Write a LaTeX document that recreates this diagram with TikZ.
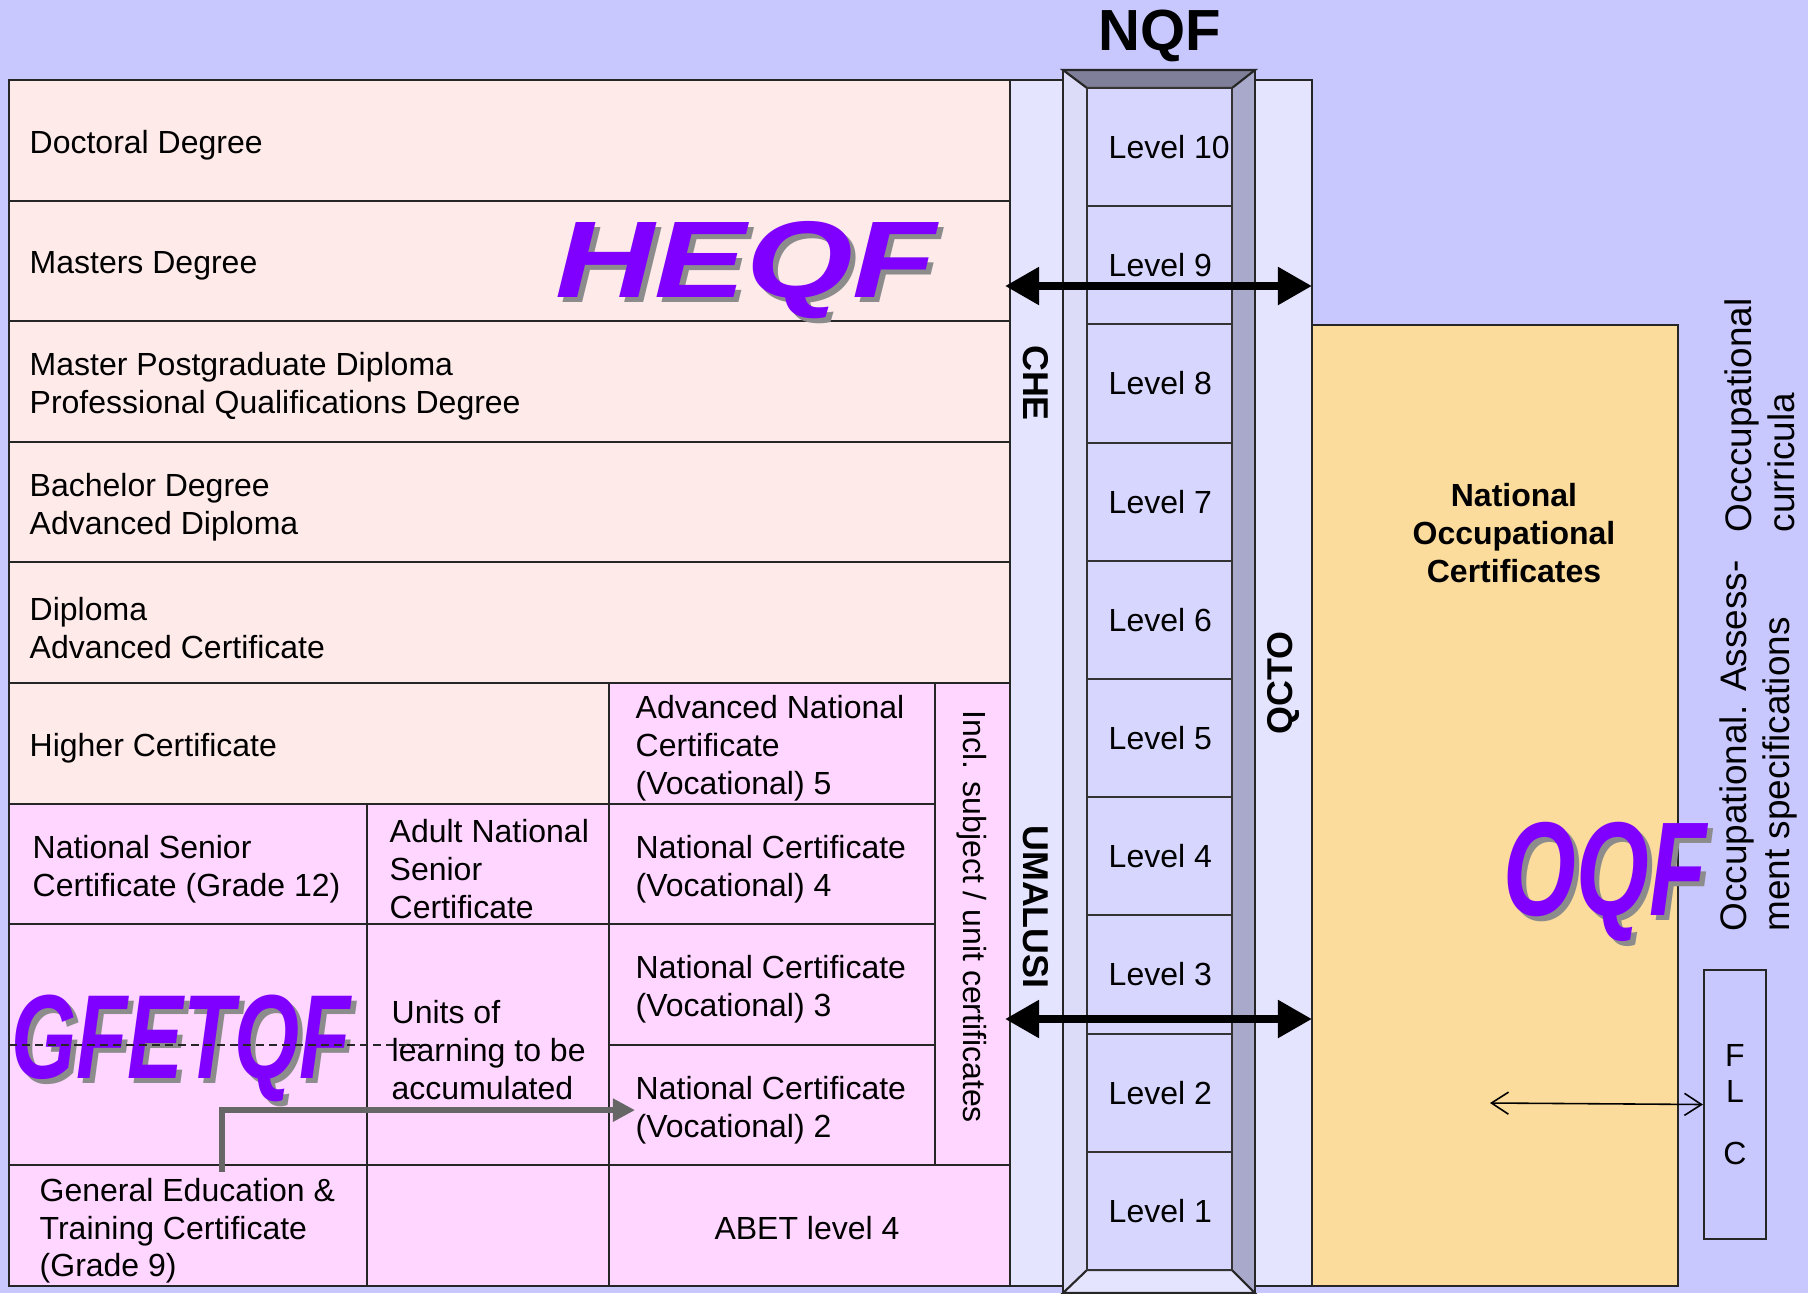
\documentclass[tikz,border=0pt]{standalone}
\usepackage{fontspec}
\setmainfont{Liberation Sans}
\usetikzlibrary{arrows.meta, positioning, backgrounds}
\tikzset{x=0.01cm, y=-0.01cm, >={Triangle[length=0.34cm, width=0.36cm]}}

\begin{document}
\begin{tikzpicture}
% Style
[
    line join=miter,
    cell/.style={draw=black!85, line width=0.6pt},
    level box/.style={draw=black!80, line width=0.6pt, fill=level fill},
    cell text/.style={font=\fontsize{9.1}{10.8}\selectfont, align=left, anchor=west, inner sep=0pt, yshift=-0.05cm},
    level text/.style={font=\fontsize{9.1}{10.8}\selectfont, inner sep=0pt},
    body name/.style={font=\fontsize{10.2}{12}\selectfont\bfseries, inner sep=0pt},
    side text/.style={font=\fontsize{10.5}{12.2}\selectfont, align=left, inner sep=0pt, rotate=90, anchor=north west},
    qf label/.style={anchor=base, inner sep=0pt, text=logo},
    qf shadow/.style={anchor=base, inner sep=0pt, text=logo shadow, xshift=0.05cm, yshift=-0.05cm},
    link arrow/.style={line width=2.3pt, <->},
    ladder arrow/.style={line width=1.5pt, draw=black!60, -{Triangle[length=0.22cm, width=0.22cm]}},
    flc arrow/.style={line width=0.45pt, {Straight Barb[length=0.17cm, width=0.22cm]}-{Straight Barb[length=0.17cm, width=0.22cm]}}
]

% Define: Colors
\definecolor{backdrop}{HTML}{C8C8FF}
\definecolor{pink high}{HTML}{FFEAEA}
\definecolor{pink low}{HTML}{FFD6FF}
\definecolor{body fill}{HTML}{E4E4FF}
\definecolor{level fill}{HTML}{D6D6FF}
\definecolor{frame light}{HTML}{DCDCF8}
\definecolor{frame dark}{HTML}{A9A9CC}
\definecolor{frame top}{HTML}{7F7F99}
\definecolor{oqf fill}{HTML}{FCDC9C}
\definecolor{logo}{HTML}{8000FF}
\definecolor{logo shadow}{HTML}{8C8C8C}

%================================== Prepare ==================================
% name, base point, size, stretch, text
\def\qflogo#1#2#3#4#5{
    \node[qf shadow, font=\fontsize{#3}{#3}\selectfont\bfseries\itshape] (#1 shadow) at #2 {\scalebox{#4}[1]{#5}};
    \node[qf label,  font=\fontsize{#3}{#3}\selectfont\bfseries\itshape] (#1) at #2 {\scalebox{#4}[1]{#5}};
}

%=================================== Start ===================================
{
    \useasboundingbox (0,0) rectangle (1808,1293);
    \fill[backdrop] (0,0) rectangle (1808,1293);

    % Draw: Bodies on both sides of the NQF
    \filldraw[cell, fill=body fill] (1010,80) rectangle (1063,1286);
    \filldraw[cell, fill=body fill] (1255,80) rectangle (1312,1286);

    % Draw: NQF frame
    \fill[frame light] (1063,70) rectangle (1087,1293);
    \fill[frame dark] (1232,70) rectangle (1255,1293);
    \filldraw[cell, fill=frame top] (1063,70) -- (1255,70) -- (1232,88) -- (1087,88) -- cycle;
    \filldraw[cell, fill=body fill] (1087,1270) -- (1232,1270) -- (1255,1293) -- (1063,1293) -- cycle;
    \draw[cell] (1063,70) -- (1063,1293) (1255,70) -- (1255,1293);

    % Draw: Levels
    \foreach \i in {1,...,10} {
        \pgfmathsetmacro\lvltop{88+(10-\i)*118.2}
        \draw[level box] (1087,\lvltop) rectangle ++(145,118.2);
        \node[level text, anchor=west] (level\i) at (1108,\lvltop+59.1) {Level \i};
    }
    \node[font=\fontsize{16.5}{16.5}\selectfont\bfseries, inner sep=0pt] (nqf) at (1160,36) {NQF};

    % Draw: Occupational side
    \filldraw[cell, fill=oqf fill] (1312,325) rectangle (1678,1286);
    \node[level text, font=\fontsize{9.1}{10.8}\selectfont\bfseries, align=center] (noc) at (1514,533)
        {National\\Occupational\\Certificates};
    \node[cell, minimum width=0.62cm, minimum height=2.69cm, inner sep=0pt, align=center,
          font=\fontsize{9.1}{10.2}\selectfont] (flc) at (1735,1104.5) {F\\L\\[0.26cm]C};
    \node[side text] (assess) at (1719,932) {Occupational. Assess-\\ment specifications};
    \node[side text] (curricula) at (1724,533) {Occcupational\\curricula};

    % Draw: Qualifications table
    \filldraw[cell, fill=pink high] (9,80) rectangle (1010,683);
    \filldraw[cell, fill=pink low] (9,683) rectangle (1010,1286);
    \fill[pink high] (9,683) rectangle (609,803.6);
    \foreach \r in {1,...,5} {
        \draw[cell] (9,80+120.6*\r) -- (1010,80+120.6*\r);
    }
    \draw[cell] (9,803.6) -- (935,803.6);
    \draw[cell] (9,924.2) -- (935,924.2);
    \draw[cell] (609,1044.8) -- (935,1044.8);
    \draw[cell] (9,1165.4) -- (1010,1165.4);
    \draw[cell] (367,803.6) -- (367,1286);
    \draw[cell] (609,683) -- (609,1286);
    \draw[cell] (935,683) -- (935,1165.4);
    \draw[cell] (9,80) rectangle (1010,1286);

    \node[cell text] (doctoral) at (29,140.3) {Doctoral Degree};
    \node[cell text] (masters) at (29,260.9) {Masters Degree};
    \node[cell text] (masterpg) at (29,381.5) {Master Postgraduate Diploma\\Professional Qualifications Degree};
    \node[cell text] (bachelor) at (29,502.1) {Bachelor Degree\\Advanced Diploma};
    \node[cell text] (diploma) at (29,622.7) {Diploma\\Advanced Certificate};
    \node[cell text] (highercert) at (29,743.3) {Higher Certificate};
    \node[cell text] (ancv5) at (635,743.3) {Advanced National\\Certificate\\(Vocational) 5};
    \node[cell text] (nsc) at (32,863.9) {National Senior\\Certificate (Grade 12)};
    \node[cell text] (ansc) at (389,863.9) {Adult National\\Senior\\Certificate};
    \node[cell text] (ncv4) at (635,863.9) {National Certificate\\(Vocational) 4};
    \node[cell text] (units) at (391,1044.8) {Units of\\learning to be\\accumulated};
    \node[cell text] (ncv3) at (635,984.5) {National Certificate\\(Vocational) 3};
    \node[cell text] (ncv2) at (635,1105.1) {National Certificate\\(Vocational) 2};
    \node[cell text] (getc) at (39,1225.7) {General Education \&\\Training Certificate\\(Grade 9)};
    \node[level text] (abet) at (807,1228) {ABET level 4};
    \node[level text, rotate=-90] (incl) at (972,917) {Incl. subject / unit certificates};

    % Draw: Quality councils
    \node[body name, rotate=-90] (che) at (1036,383) {CHE};
    \node[body name, rotate=-90] (umalusi) at (1036,907) {UMALUSI};
    \node[body name, rotate=90] (qcto) at (1283,683) {QCTO};

    % Draw: Framework labels
    \qflogo{heqf}{(746,297)}{31}{1.26}{HEQF}
    \qflogo{gfetqf}{(181,1078)}{34}{0.70}{GFETQF}
    \qflogo{oqf}{(1605,915)}{38}{0.70}{OQF}
    \draw[cell, line width=0.4pt, dash pattern=on 0.08cm off 0.05cm] (9,1044.8) -- (425,1044.8);

    % Draw: Links
    \coordinate (top link west) at (1005,286);
    \coordinate (top link east) at (1312,286);
    \coordinate (low link west) at (1005,1019);
    \coordinate (low link east) at (1312,1019);
    \draw[link arrow] (top link west) -- (top link east);
    \draw[link arrow] (low link west) -- (low link east);

    \coordinate (ladder) at (222,1172);
    \draw[ladder arrow] (ladder) |- (ncv2.west);

    \coordinate (flc link) at (1490,1103);
    \draw[flc arrow] (flc link) -- (flc.west);
}
%==================================== END ====================================
\end{tikzpicture}
\end{document}
